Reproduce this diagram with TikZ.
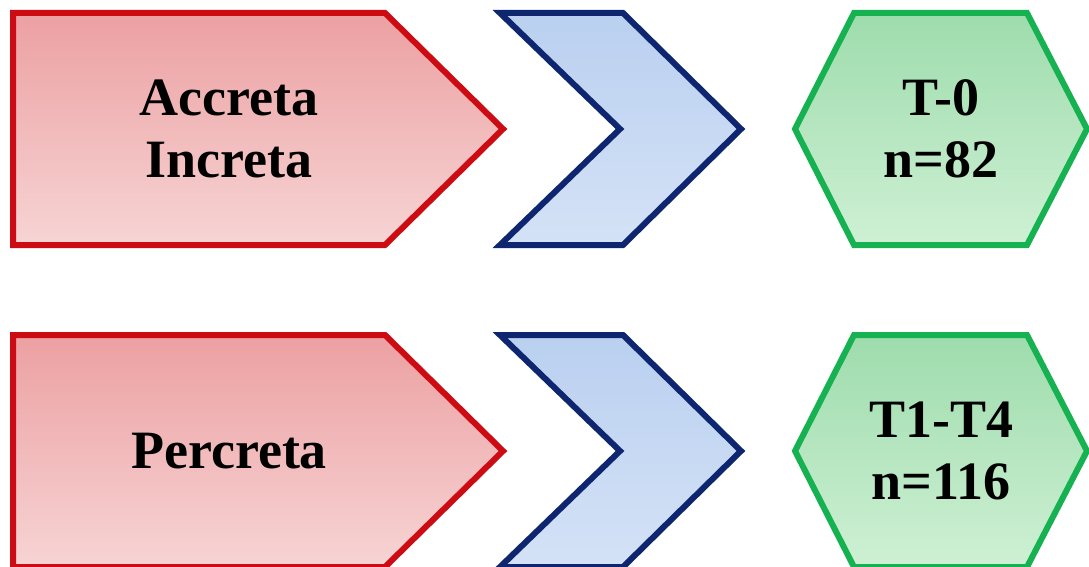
\documentclass[tikz,border=0pt]{standalone}
\usepackage{fontspec}
\setmainfont{Liberation Serif}
\usetikzlibrary{positioning}
\definecolor{rosewood}{RGB}{204,12,18}
\definecolor{blush}{RGB}{236,160,162}
\definecolor{blushlight}{RGB}{247,212,212}
\definecolor{navy}{RGB}{14,38,112}
\definecolor{sky}{RGB}{186,208,240}
\definecolor{skylight}{RGB}{212,226,246}
\definecolor{jade}{RGB}{22,178,82}
\definecolor{mint}{RGB}{158,220,172}
\definecolor{mintlight}{RGB}{206,240,212}
\tikzset{
  x=1pt,y=1pt,
  outline/.style={line width=6pt,miter limit=10,line join=miter},
  caption/.style={font=\fontsize{54}{62}\selectfont\bfseries,align=center,inner sep=0pt},
  % shapes, drawn from the left middle point
  pics/tab/.style={code={
    \draw[outline,rosewood,top color=blush,bottom color=blushlight]
      (0,116) -- (372,116) -- (490,0) -- (372,-116) -- (0,-116) -- cycle;
  }},
  pics/chevron/.style={code={
    \draw[outline,navy,top color=sky,bottom color=skylight]
      (0,116) -- (123,116) -- (241,0) -- (123,-116) -- (0,-116) -- (120,0) -- cycle;
  }},
  pics/hexa/.style={code={
    \draw[outline,jade,top color=mint,bottom color=mintlight]
      (0,0) -- (59,116) -- (232,116) -- (292,0) -- (232,-116) -- (59,-116) -- cycle;
  }},
}
\begin{document}
\begin{tikzpicture}
  \useasboundingbox[fill=white] (0,0) rectangle (1089,-567);
  % upper row
  \pic at (13,-129) {tab};
  \pic at (500,-129) {chevron};
  \pic at (795,-129) {hexa};
  \node[caption] (ai) at (229,-129) {Accreta\\Increta};
  \node[caption] (t0) at (941,-129) {T-0\\n=82};
  % lower row
  \pic at (13,-451) {tab};
  \pic at (500,-451) {chevron};
  \pic at (795,-451) {hexa};
  \node[caption] (pc) at (229,-451) {Percreta};
  \node[caption] (t14) at (941,-451) {T1-T4\\n=116};
\end{tikzpicture}
\end{document}
